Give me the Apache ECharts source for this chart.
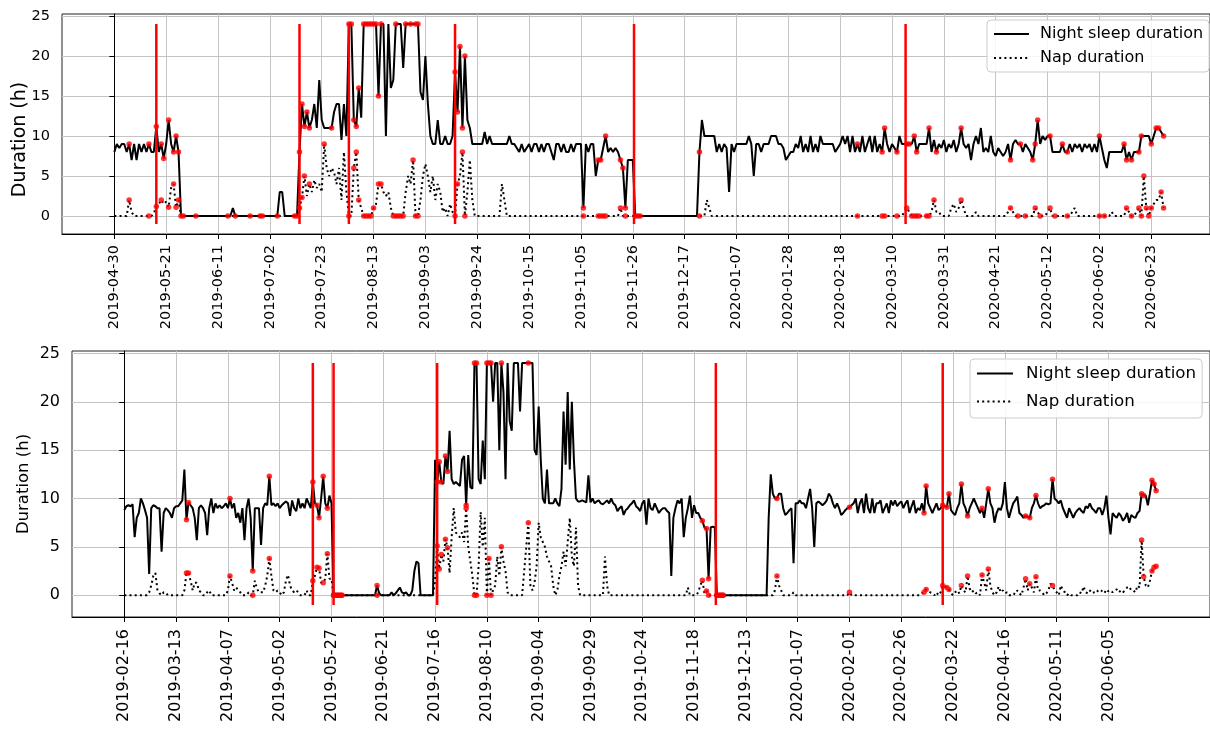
<!DOCTYPE html>
<html>
<head>
<meta charset="utf-8">
<script src="https://cdn.jsdelivr.net/npm/echarts@6/dist/echarts.min.js"></script>
<style>
html,body{margin:0;padding:0;background:#fff;}
#chart{width:1210px;height:729px;}
</style>
</head>
<body>
<div id="chart"></div>
<script>
// ---------- TOP PANEL (day 0 = 2019-04-30) ----------
const topStart = '2019-04-30';
const topTickLabels = ['2019-04-30','2019-05-21','2019-06-11','2019-07-02','2019-07-23','2019-08-13','2019-09-03','2019-09-24','2019-10-15','2019-11-05','2019-11-26','2019-12-17','2020-01-07','2020-01-28','2020-02-18','2020-03-10','2020-03-31','2020-04-21','2020-05-12','2020-06-02','2020-06-23'];
const topNight = [
 8,9,8.5,9,9,8,9,7,9,7,
 9,8,9,8,9,8,8,11.2,8,9,
 7.2,9,12,9,8,10,8,0,0,0,
 0,0,0,0,0,0,0,0,0,0,
 0,0,0,0,0,0,0,0,1,0,
 0,0,0,0,0,0,0,0,0,0,
 0,0,0,0,0,0,0,3,3,0,
 0,0,0,0,0,8,14,11.2,13,11,
 12,14,11,17,12,11,11,11,11,13,
 14,14,9.5,14,10,24,24,12,11.2,16,
 12.3,24,24,24,24,24,24,15,24,24,
 10,24,16,17,24,24,24,18.5,24,24,
 24,24,24,24,15.5,14.5,20,14,10,9,
 9,12,9,9,10,9,9,10,18,13,
 21.2,11,20,12,11,9,9,9,9,9,
 10.5,9,10,9,9,9,9,9,9,9,
 10,9,9,8.5,8,9,8,8.5,9,8,
 9,9,8,9,8,9,9,8,7,9,
 9,8,9,8,8,9,8,9,9,9,
 1,9,8,9,9,5,7,7,8.5,10,
 8,8.5,8,8.5,8,7,6,1,7,7,
 7,0,0,0,0,0,0,0,0,0,
 0,0,0,0,0,0,0,0,0,0,
 0,0,0,0,0,0,0,8,12,10,
 10,10,10,10,8,9,8,9,8.5,3,
 9,8,9,9,9,9,9,10,9,5,
 9,9,8,9,9,9,10,10,10,9,
 9,8.5,7,7.5,8,8,9,8.5,10,8,
 9,8,10,8,9,8,10,9,9,9,
 9,9,8,8.5,9,10,9,10,8,10,
 8,9,8,10,8,9,10,8,10,8,
 9,8,11,9,8,9,8.5,8,10,9,
 9,9,9,9,10,8,9,9,9,9,
 11,8,9.5,8,9,8.5,9.5,8,9,8.5,
 9.5,8,9,11,9,8.5,9,7,9,10,
 9,11,8,8.5,8,10,8,7.5,8.5,8,
 7.5,8,9,7,9,9.5,9,9,8,9,
 8.5,8,7,9,12,9,10,9.5,10,10,
 8,8,8,8,9,8,8,9,8,9,
 8.5,9,8,9,8.5,9,8,9,8,10,
 8.5,7,6,8,8,8,8,8,8,9,
 7,8,7,8,8,8,10,10,10,10,
 9,10,11,11,10.5,10
];
const topNap = [
 0,0,0,0,0,0,2,0.5,0,0,
 0,0,0,0,0,0,0.3,1.2,1.5,2,
 1.5,1.8,1.1,3.5,4,1.1,2,0,0,0,
 0,0,0,0,0,0,0,0,0,0,
 0,0,0,0,0,0,0,0,0,0,
 0,0,0,0,0,0,0,0,0,0,
 0,0,0,0,0,0,0,0,0,0,
 0,0,0,0,0,1,2.3,5,2.5,4,
 3,4.5,3.5,4,3,9,6,5,6,5.5,
 4,6,2,8,3,0,0,6,8,2,
 1,0,0,0,0,1,1.5,4,4,3,
 2.5,3,1,0,0,0,0,0,3,5,
 4,7,0,0,2,5,6.5,5,3,5,
 2,4,3,0.5,1,0,1.5,0.5,0,4,
 5,8,0,3,7,2,0,0,0,0,
 0,0,0,0,0,0,0,4,2,0,
 0,0,0,0,0,0,0,0,0,0,
 0,0,0,0,0,0,0,0,0,0,
 0,0,0,0,0,0,0,0,0,0,
 0,0,0,0,0,0,0,0,0,0,
 0,0,0,0,0,1,0,0,0,0,
 0,0,0,0,0,0,0,0,0,0,
 0,0,0,0,0,0,0,0,0,0,
 0,0,0,0,0,0,0,0,0,0,
 2,1,0,0,0,0,0,0,0,0,
 0,0,0,0,0,0,0,0,0,0,
 0,0,0,0,0,0,0,0,0,0,
 0,0,0,0,0,0,0,0,0,0,
 0,0,0,0,0,0,0,0,0,0,
 0,0,0,0,0,0,0,0,0,0,
 0,0,0,0,0,0,0,0,0,0,
 0,0,0,0,0,0,0,0,0,0,
 0.5,1,0.5,0,0,0,0,0,0,0,
 0,0.5,2,0.5,0.5,0,0,0,0,1,
 1.5,0.5,1,2,1,0,0,0,0,0.5,
 0,0,0,0,0,0,0,0,0,0,
 0,0,0.5,1,0.5,0,0,0,0,0,
 0,0,0,1,0.5,0,0,0,0.5,1,
 0,0,0,0,0,0,0,0,0.5,1,
 0,0,0,0,0,0,0,0,0,0,
 0,0,0,0,0.5,0,0,0,0,0,
 1,0.5,0,0,0.5,1,0,5,1,0,
 1,1.5,2,2,3,1
];
const topNightRedDays = [6,14,17,19,20,22,24,25,26,27,28,33,46,49,55,59,60,66,73,74,75,76,77,78,79,88,95,96,97,98,99,101,102,103,104,105,106,107,108,114,118,120,122,123,138,139,140,141,142,190,196,197,199,205,206,207,211,212,213,237,301,311,312,317,321,322,324,325,330,333,343,363,367,372,373,374,379,384,386,399,409,410,412,415,416,420,422,423,425];
const topNapRedDays = [6,14,17,19,22,24,25,26,75,76,77,79,85,95,97,98,99,101,102,103,104,105,107,108,113,114,115,116,117,121,122,123,138,139,141,142,190,196,197,198,199,205,207,237,301,311,312,317,321,323,324,325,326,329,330,332,343,363,366,369,373,375,379,381,386,399,401,410,412,415,416,417,418,419,420,424,425];
const topEventDays = [17,75,95,138,210.5,320.5];

// ---------- BOTTOM PANEL (day 0 = 2019-02-16) ----------
const bottomStart = '2019-02-16';
const bottomTickLabels = ['2019-02-16','2019-03-13','2019-04-07','2019-05-02','2019-05-27','2019-06-21','2019-07-16','2019-08-10','2019-09-04','2019-09-29','2019-10-24','2019-11-18','2019-12-13','2020-01-07','2020-02-01','2020-02-26','2020-03-22','2020-04-16','2020-05-11','2020-06-05'];
const bottomNight = [
 8.8,9.2,9.3,9.2,9.4,6,8,8.5,10,9.5,
 8.8,8,2.2,9,9.3,9.2,9,9,4.5,8.5,
 9,8.8,8.5,8,9,9.2,9.2,9.5,9.8,13,
 7.8,9.6,9.3,9,8,5.7,9,9.3,9,8.5,
 6.2,9,10,8.5,9.5,9,9.3,9,9.2,9.5,
 9,10,9,9.5,8,8.5,7.5,9,5.7,9,
 10,8,2.5,9,9,9,5.2,9,9.5,9.3,
 12.3,9.3,9.5,9.2,9.5,9,9.3,9.5,9.7,9.5,
 8.2,9.8,9,8.7,10,9,9.5,9,10,9.5,
 9,11.7,9.5,9.3,8,10,12.3,9.5,9,10.3,
 9.5,0,0,0,0,0,0,0,0,0,
 0,0,0,0,0,0,0,0,0,0,
 0,0,1,0.2,0,0,0,0,0,0.3,
 0,0.2,0.5,0.8,0.3,0.2,0.3,0,0,0.5,
 2.5,3.5,3.3,0,0,0,0,0,0,0,
 14,11.7,13.8,11.7,11.5,14.4,12.8,17,12,11.5,
 11.7,11.5,11.3,14,14.4,9.3,14.5,11.2,11,24,
 24,12,11.5,16,12,24,24,24,20,24,
 24,15,24,21,12,24,18,17,24,24,
 24,19,24,24,24,24,24,24,15,14.5,
 19.5,14,10,9.5,13,9.5,9.5,9.5,10,9.5,
 9.2,11,19,13.5,21,13,20,14,10,9.7,
 9.7,9.8,9.7,9.6,12.4,9.6,10,9.5,9.7,9.8,
 9.5,9.4,9.6,9.8,9.5,10,9.5,9.3,8.7,9,
 9.2,8.3,8.8,9,9.3,9.5,9.8,9.2,9,8.7,
 9.5,9.8,7.3,10,9,8.8,9.5,9,8.5,8.8,
 9,9,8.7,8.5,2,8,9,9.8,9.5,10,
 6,8,9,10.3,8,9.3,8.5,8.5,8,7.7,
 7,6.9,1.7,7,7.1,7,0,0,0,0,
 0,0,0,0,0,0,0,0,0,0,
 0,0,0,0,0,0,0,0,0,0,
 0,8,12.5,10.5,10,10,10.5,10.5,9,8.3,
 8.5,8.8,9,3.3,9.5,9.5,9.8,9.5,9.5,9,
 10,11,9,5,9.5,9.7,9.5,9.3,9.5,9.8,
 10.5,10.2,9.5,9,9.5,9,8.3,8.5,8.8,9,
 9.1,9.3,9.5,10,8.5,9.5,10,8.5,10.5,9,
 8.5,10,8.5,9.5,9.5,9.8,8.5,9,9.5,8.5,
 9.8,9.3,9.8,9.2,9.5,9.7,9,9.5,9.8,8.5,
 9.2,9.8,8.5,9,8.8,9.5,8.5,11.3,9.5,9,
 8.5,9,9.5,8.8,9,9.3,9.2,9.1,10.5,8.8,
 8.5,8.3,9,9.5,11.5,9.5,9,8.2,9,9.5,
 10,9.5,9,8.5,9,8,9.5,11,9.5,9,
 7.5,8.5,9,8.8,9.5,11.7,9,8,8.8,9.5,
 9.8,10.2,8.5,8.3,8,8.2,8.1,8,9,9.5,
 10.3,9.5,9,9.2,9.3,9.5,9.4,9.5,12,10,
 9.8,9.5,9.8,9,8.5,8,9,8.5,8,8.5,
 8.8,9,8.7,8.5,9.2,9,9.5,9,8.8,8.5,
 9,9,8.3,9,10.3,8,6.3,8.5,8.2,8,
 8.5,8.2,7.7,8,8.5,7.5,8.3,8.1,8,8.5,
 8.7,10.5,10.3,10.3,9.3,10.5,11.9,11.5,10.8
];
const bottomNap = [
 0,0,0,0,0,0,0,0,0,0,
 0,0,0.3,1,2,2.3,0.5,0.2,0,0.3,
 0.3,0,0,0,0,0,0,0,0,0.5,
 2.3,2.3,1.5,0.5,1.3,1.3,0.5,0.3,0,0,
 0.3,0.5,0,0,0,0,0,0,0,0,
 0.5,2,1.3,0.5,0.8,0.5,0.3,0,0,0,
 0.3,0,0,1.5,0.7,0.3,0.3,0.3,1,2,
 3.8,2,0.5,0.3,0.5,0.3,0,0.3,1.5,2.1,
 1,0.5,0.3,0.5,0.3,0,0,0,0.5,0,
 0,1.5,2,2.9,2.8,1.3,1.3,1.7,4.3,1.7,
 1.7,0,0,0,0,0,0,0,0,0,
 0,0,0,0,0,0,0,0,0,0,
 0,0,0,0,0,0,0,0,0,0,
 0,0,0,0,0,0,0,0,0,0,
 0,0,0,0,0,0,0,0,0,0,
 1.5,5.1,2.7,4.2,3.5,5.8,4.9,2.3,6,9,
 6.5,6.2,6,6.5,5.5,9,5,3.5,2,0,
 0,3,8.6,5,8,0,3.8,0,0.5,1,
 4,2,5,3.5,2.5,0.3,0,0,0,0,
 0,0,0,2.5,5,7.5,1,0.5,1.3,3,
 7.5,6,5.5,5,4,3.5,3,1,0,0.5,
 2,3,4.5,3,5.5,8,4,3,7,1,
 0,0,0,0,0,0,0,0,0,0,
 0,0,4,1,0,0,0,0,0,0,
 0,0,0,0,0,0,0,0,0,0,
 0,0,0,0,0,0,0,0,0,0,
 0,0,0,0,0,0,0,0,0,0,
 0,0,0.8,0,0,0,0,0.3,1,1.55,
 0.2,0.45,0,0,0,0,0,0,0,0,
 0,0,0,0,0,0,0,0,0,0,
 0,0,0,0,0,0,0,0,0,0,
 0,0,0,0,0.5,2,1,0.5,0,0,
 0,0,0,0.3,0,0,0,0,0,0,
 0,0,0,0,0,0,0,0,0,0,
 0,0,0,0,0,0,0,0,0,0,
 0.3,0,0,0,0,0,0,0,0,0,
 0,0,0,0,0,0,0,0,0,0,
 0,0,0,0,0,0,0,0,0,0,
 0,0,0,0,0,0.2,0.3,0.6,0.4,0.3,
 0.2,0,0.3,0,0.3,1,0.9,0.8,0.6,0.2,
 0,0.3,0.5,0.2,1,0.5,0.3,2,0.7,0.3,
 0.5,0.2,0.3,0,2.1,1.3,0.5,2.7,1,0.3,
 0,0.3,0.9,0.3,0.5,0.2,0.3,0,0,0.2,
 0.1,0.5,0.2,0,0.8,1.7,0.5,1.2,0.8,0.3,
 1.9,0.5,0.5,0.3,0,0.2,0.5,1.2,1,0.5,
 0.3,0,1,0.5,0.3,0,0.2,0,0,0,
 0,0.3,0.2,0.9,0.3,0.2,0.5,0.2,0.3,0.2,
 0.5,0.6,0.4,0.2,0.6,0.4,0.5,0.3,0.5,0.6,
 0.3,0.5,0.3,0.5,0.8,0.9,0.5,0.5,0.3,1,
 0.8,5.7,1.9,1,0.8,1.5,2.5,2.9,3
];
const bottomRedDays = [30,31,51,62,70,91,93,94,96,98,101,102,103,104,105,122,151,152,153,155,156,165,169,170,175,176,177,182,195,279,281,282,286,287,288,289,315,350,386,387,395,397,398,404,407,414,417,435,437,440,448,491,492,496,497,498];
const bottomEventDays = [91,101,151,285.5,395];

const yTicks = [0,5,10,15,20,25];
const eventRange = [-1,24];
const seriesNames = ['Night sleep duration','Nap duration'];

// ---------- build ----------
const FONT = 'DejaVu Sans';
const DAY = 86400000;
function tickDays(labels, start){ return labels.map(l => Math.round((Date.parse(l)-Date.parse(start))/DAY)); }
function pairs(arr){ return arr.map((v,i)=>[i,v]); }
function redPts(arr, days){ return days.map(d=>[d, arr[d]]); }

const topTicks = tickDays(topTickLabels, topStart);
const bottomTicks = tickDays(bottomTickLabels, bottomStart);

function xAxisCfg(gi, min, max, ticks, labels, fs, margin){
  const map = {}; ticks.forEach((t,i)=>map[t]=labels[i]);
  return {
    type:'value', gridIndex:gi, min:min, max:max,
    axisLine:{show:true,onZero:false,lineStyle:{color:'#000',width:1}},
    axisTick:{show:true,inside:false,length:5,customValues:ticks,lineStyle:{color:'#000',width:1}},
    axisLabel:{show:true,rotate:90,margin:margin,customValues:ticks,color:'#000',fontFamily:FONT,fontSize:fs,
      formatter:v=>map[Math.round(v)]||''},
    splitLine:{show:true,lineStyle:{color:'#c4c4c4',width:1}}
  };
}
function yAxisCfg(gi, fs){
  return {
    type:'value', gridIndex:gi, min:-2.25, max:25.25,
    axisLine:{show:true,lineStyle:{color:'#000',width:1}},
    axisTick:{show:true,inside:false,length:5,customValues:yTicks,lineStyle:{color:'#000',width:1}},
    axisLabel:{show:true,margin:12,customValues:yTicks,color:'#000',fontFamily:FONT,fontSize:fs},
    splitLine:{show:true,lineStyle:{color:'#c4c4c4',width:1}}
  };
}

const series = [];
function addPanel(gi, night, nap, nightRed, napRed, events){
  series.push({name:seriesNames[0],type:'line',xAxisIndex:gi,yAxisIndex:gi,data:pairs(night),
    symbol:'none',showSymbol:false,color:'#000',lineStyle:{color:'#000',width:2},z:2,silent:true});
  series.push({name:seriesNames[1],type:'line',xAxisIndex:gi,yAxisIndex:gi,data:pairs(nap),
    symbol:'none',showSymbol:false,color:'#000',lineStyle:{color:'#000',width:2,type:[2,3.2],cap:'butt'},z:2,silent:true});
  events.forEach(d=>{
    series.push({type:'line',xAxisIndex:gi,yAxisIndex:gi,data:[[d,eventRange[0]],[d,eventRange[1]]],
      symbol:'none',lineStyle:{color:'#ff0000',width:2.5},z:3,silent:true});
  });
  series.push({type:'scatter',xAxisIndex:gi,yAxisIndex:gi,data:redPts(night,nightRed).concat(redPts(nap,napRed)),
    symbolSize:5.5,itemStyle:{color:'#ff0000'},z:4,silent:true});
}
addPanel(0, topNight, topNap, topNightRedDays, topNapRedDays, topEventDays);
addPanel(1, bottomNight, bottomNap, bottomRedDays, bottomRedDays, bottomEventDays);

const legendBase = {orient:'vertical',selectedMode:false,backgroundColor:'rgba(255,255,255,0.85)',
  borderColor:'#cccccc',borderWidth:1,borderRadius:4,data:seriesNames,
  itemStyle:{opacity:0}};

const option = {
  animation:false,
  backgroundColor:'#fff',
  grid:[
    {left:62,top:14,width:1148,height:220,show:true,borderColor:'#222',borderWidth:1,backgroundColor:'transparent',containLabel:false,outerBoundsMode:'none'},
    {left:72,top:351,width:1138,height:266,show:true,borderColor:'#222',borderWidth:1,backgroundColor:'transparent',containLabel:false,outerBoundsMode:'none'}
  ],
  xAxis:[
    xAxisCfg(0,-21.2,443.8,topTicks,topTickLabels,14.5,11),
    xAxisCfg(1,-25.24,524,bottomTicks,bottomTickLabels,16,12)
  ],
  yAxis:[ yAxisCfg(0,14.5), yAxisCfg(1,16) ],
  legend:[
    Object.assign({},legendBase,{left:987,top:20,padding:[6,6,6,6],itemWidth:35,itemHeight:14,itemGap:8,
      textStyle:{fontFamily:FONT,fontSize:16,color:'#000',padding:[0,0,0,6]}}),
    Object.assign({},legendBase,{left:970,top:359,padding:[6,6,8,6],itemWidth:36,itemHeight:14,itemGap:11,
      textStyle:{fontFamily:FONT,fontSize:16.7,color:'#000',padding:[0,0,0,8]}})
  ],
  graphic:[
    {type:'text',x:20,y:139.5,rotation:Math.PI/2,style:{text:'Duration (h)',font:'19px "DejaVu Sans"',fill:'#000',textAlign:'center',textVerticalAlign:'middle'}},
    {type:'text',x:24,y:484,rotation:Math.PI/2,style:{text:'Duration (h)',font:'16.5px "DejaVu Sans"',fill:'#000',textAlign:'center',textVerticalAlign:'middle'}}
  ],
  series:series
};
if(topNight.length!==426||topNap.length!==426||bottomNight.length!==499||bottomNap.length!==499){
  option.graphic.push({type:'text',x:400,y:300,style:{text:'LEN '+topNight.length+' '+topNap.length+' '+bottomNight.length+' '+bottomNap.length,font:'20px sans-serif',fill:'blue'}});
}
const chart = echarts.init(document.getElementById('chart'),null,{renderer:'canvas'});
chart.setOption(option);
</script>
</body>
</html>
